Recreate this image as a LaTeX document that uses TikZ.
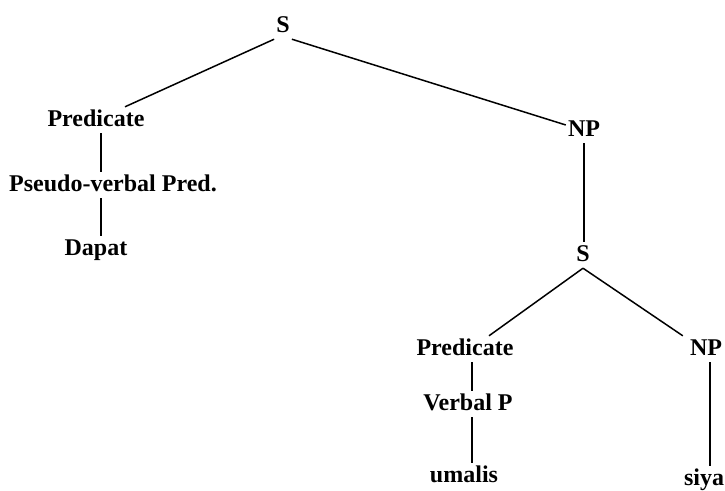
\documentclass[tikz,border=0pt]{standalone}
\usepackage{fontspec}
\setmainfont{Liberation Serif}
\usepackage{tikz}
\usetikzlibrary{positioning, calc}

\begin{document}
\begin{tikzpicture}[x=1pt, y=-1pt,
  cat/.style={font=\bfseries\fontsize{24}{24}\selectfont, anchor=base,
    text height=17pt, text depth=5pt, inner sep=2pt},
  branch/.style={line width=1.5pt}]

\useasboundingbox (0, 0) rectangle (725, 490);

% --- Top clause ---
\node[cat] (s1) at (283, 32) {S};

% --- Left branch: predicate ---
\node[cat] (pred1) at (96, 126) {Predicate};
\node[cat] (pvp) at (113, 191) {Pseudo-verbal Pred.};
\node[cat] (dapat) at (96, 255) {Dapat};

% --- Right branch: embedded clause ---
\node[cat] (np1) at (584, 136) {NP};
\node[cat] (s2) at (583, 261) {S};
\node[cat] (pred2) at (465, 355) {Predicate};
\node[cat] (vp) at (468, 410) {Verbal P};
\node[cat] (umalis) at (464, 482) {umalis};
\node[cat] (np2) at (706, 355) {NP};
\node[cat] (siya) at (704, 485) {siya};

% --- Branches ---
\draw[branch] (s1.south west) -- ([xshift=29pt]pred1.north);
\draw[branch] (s1.south east) -- ([yshift=5pt]np1.west);
\draw[branch] ([xshift=5pt]pred1.south) -- ([xshift=-12pt]pvp.north);
\draw[branch] ([xshift=-12pt]pvp.south) -- ([xshift=5pt]dapat.north);
\draw[branch] (np1.south) -- (np1.south |- s2.north);
\draw[branch] (s2.south) -- ([xshift=24pt]pred2.north);
\draw[branch] (s2.south) -- ([xshift=-5pt]np2.north west);
\draw[branch] ([xshift=7pt]pred2.south) -- ([xshift=4pt]vp.north);
\draw[branch] ([xshift=4pt]vp.south) -- ([xshift=8pt]umalis.north);
\draw[branch] ([xshift=4pt]np2.south) -- ([xshift=4pt]np2.south |- siya.north);

\end{tikzpicture}
\end{document}
